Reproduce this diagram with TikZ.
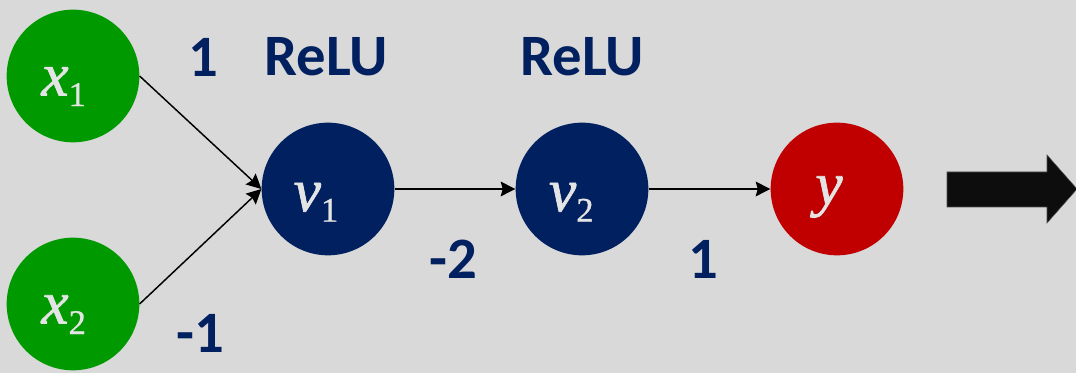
\documentclass[tikz,border=0pt]{standalone}
\usepackage{fontspec}
\setsansfont{Carlito}
\newfontfamily\mfont[ItalicFeatures={FakeBold=1.2},UprightFeatures={FakeBold=0.8}]{Liberation Serif}
\usetikzlibrary{arrows.meta}
\definecolor{bg}{HTML}{D9D9D9}
\definecolor{navy}{HTML}{002060}
\definecolor{ingreen}{HTML}{009A00}
\definecolor{outred}{HTML}{C00000}
\definecolor{labelgray}{HTML}{E4E4E4}
% italic variable with an upright digit as subscript
\newcommand\varsub[2]{{\itshape #1}\raisebox{-8pt}{\fontsize{26}{28}\selectfont #2}}
\begin{document}
\begin{tikzpicture}[x=0.75pt,y=-0.75pt,
  neuron/.style={circle,inner sep=0pt,minimum size=99.5pt},
  nlabel/.style={text=labelgray,inner sep=0pt,font=\mfont\fontsize{46}{50}\selectfont},
  weight/.style={text=navy,inner sep=0pt,font=\sffamily\bfseries\fontsize{44}{48}\selectfont},
  link/.style={draw=black,line width=1.1pt,-{Stealth[length=11pt,width=11pt,inset=1.5pt]}}]
  % canvas
  \fill[bg] (0,0) rectangle (1076,373);
  \useasboundingbox (0,0) rectangle (1076,373);
  % neurons
  \node[neuron,fill=ingreen] (x1) at (73,76) {};
  \node[neuron,fill=ingreen] (x2) at (73,304) {};
  \node[neuron,fill=navy] (v1) at (328,189) {};
  \node[neuron,fill=navy] (v2) at (582,189) {};
  \node[neuron,fill=outred] (y) at (837,189) {};
  % neuron names
  \node[nlabel,xshift=-7pt,yshift=-8pt] (tx1) at (x1) {\varsub{x}{1}};
  \node[nlabel,xshift=-7pt,yshift=-8pt] (tx2) at (x2) {\varsub{x}{2}};
  \node[nlabel,xshift=-9pt,yshift=-10pt] (tv1) at (v1) {\varsub{v}{1}};
  \node[nlabel,xshift=-8pt,yshift=-10pt] (tv2) at (v2) {\varsub{v}{2}};
  \node[nlabel,xshift=-6pt,yshift=-6pt] (ty) at (y) {\itshape y};
  % connections
  \draw[link] (x1.east) -- (v1.west);
  \draw[link] (x2.east) -- (v1.west);
  \draw[link] (v1.east) -- (v2.west);
  \draw[link] (v2.east) -- (y.west);
  % weights and activations
  \node[weight] (w1) at (203,57) {1};
  \node[weight] (w2) at (200,333) {-1};
  \node[weight] (w3) at (453,259) {-2};
  \node[weight] (w4) at (703,259) {1};
  \node[weight] (a1) at (326,57) {ReLU};
  \node[weight] (a2) at (582,57) {ReLU};
  % block arrow
  \filldraw[fill=black!95,draw=black!70,line width=0.4pt]
    (947,172) -- (1047,172) -- (1047,155) -- (1077,189) -- (1047,223)
    -- (1047,207) -- (947,207) -- cycle;
\end{tikzpicture}
\end{document}
